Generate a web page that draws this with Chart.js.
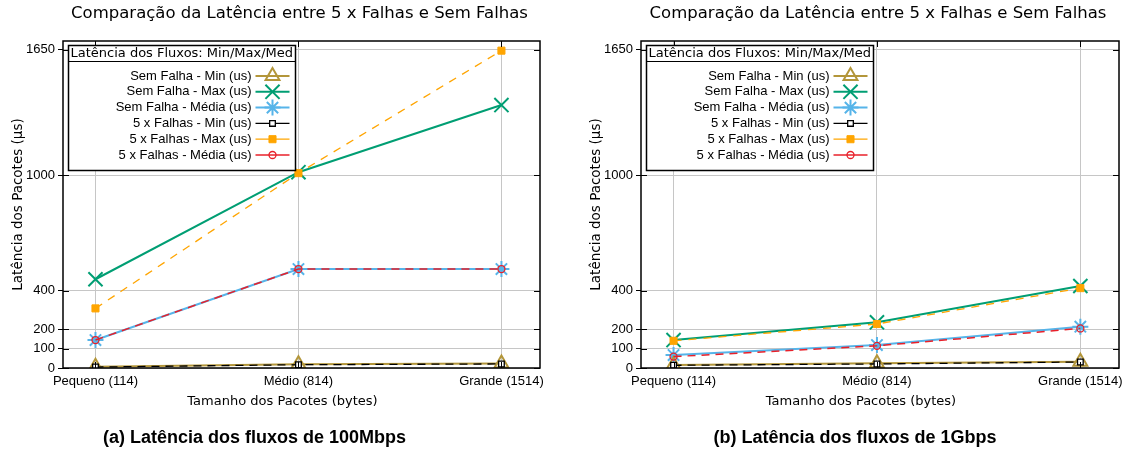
<!DOCTYPE html>
<html lang="pt">
<head>
<meta charset="utf-8">
<title>Latência dos fluxos</title>
<script src="https://cdn.jsdelivr.net/npm/chart.js@4.4.1/dist/chart.umd.min.js"></script>
<style>
  body { margin: 0; background: #fff; }
  #pagina { position: relative; width: 1132px; height: 452px; overflow: hidden; }
  canvas { position: absolute; top: 0; }
  #graf1 { left: 0; }
  #graf2 { left: 578px; }
  .legenda { position: absolute; top: 427px; line-height: 20px; font: bold 18px "Liberation Sans", Arial, sans-serif; text-align: center; white-space: nowrap; color: #000; }
</style>
</head>
<body>
<div id="pagina">
  <canvas id="graf1" width="566" height="452"></canvas>
  <canvas id="graf2" width="554" height="452"></canvas>
  <div class="legenda" style="left:0; width:509px;">(a) Latência dos fluxos de 100Mbps</div>
  <div class="legenda" style="left:578px; width:554px;">(b) Latência dos fluxos de 1Gbps</div>
</div>
<script>
// categorias e ticks
const categorias = ['Pequeno (114)', 'Médio (814)', 'Grande (1514)'];
const ticksY = [0, 100, 200, 400, 1000, 1650];

// fluxos de 100Mbps (us)
const semMin100 = [6, 20, 23];
const semMax100 = [460, 1015, 1363];
const semMed100 = [145, 513, 513];
const falMin100 = [5, 17, 21];
const falMax100 = [309, 1010, 1645];
const falMed100 = [145, 513, 513];

// fluxos de 1Gbps (us)
const semMin1G = [15, 24, 33];
const semMax1G = [145, 237, 425];
const semMed1G = [67, 119, 214];
const falMin1G = [14, 21, 31];
const falMax1G = [141, 228, 414];
const falMed1G = [59, 115, 205];

const titulo = 'Comparação da Latência entre 5 x Falhas e Sem Falhas';
const tituloChave = 'Latência dos Fluxos: Min/Max/Med';
const tituloX = 'Tamanho dos Pacotes (bytes)';

//Function que monta os datasets
function criarDatasets(semMin, semMax, semMed, falMin, falMax, falMed){
    const pts = arr => arr.map((v, i) => ({x: i, y: v}));
    return [
        { label: 'Sem Falha - Min (us)', data: pts(semMin), borderColor: '#b3963a', backgroundColor: 'rgba(0,0,0,0)',
          borderWidth: 2, pointStyle: 'triangle', pointRadius: 8, pointBorderWidth: 2, order: 2 },
        { label: 'Sem Falha - Max (us)', data: pts(semMax), borderColor: '#009e73', backgroundColor: '#009e73',
          borderWidth: 2, pointStyle: 'crossRot', pointRadius: 10, pointBorderWidth: 2, order: 2 },
        { label: 'Sem Falha - Média (us)', data: pts(semMed), borderColor: '#56b4e9', backgroundColor: '#56b4e9',
          borderWidth: 2, pointStyle: 'star', pointRadius: 8, pointBorderWidth: 2, order: 2 },
        { label: '5 x Falhas - Min (us)', data: pts(falMin), borderColor: '#000000', backgroundColor: '#ffffff',
          borderWidth: 1.3, borderDash: [8, 6], pointStyle: 'rect', pointRadius: 4, pointBorderWidth: 1.3, order: 1 },
        { label: '5 x Falhas - Max (us)', data: pts(falMax), borderColor: '#ffa500', backgroundColor: '#ffa500',
          borderWidth: 1.3, borderDash: [8, 7], pointStyle: 'rect', pointRadius: 5, pointBorderWidth: 1, order: 1 },
        { label: '5 x Falhas - Média (us)', data: pts(falMed), borderColor: '#e8202a', backgroundColor: 'rgba(0,0,0,0)',
          borderWidth: 1.5, borderDash: [8, 6], pointStyle: 'circle', pointRadius: 3.5, pointBorderWidth: 1.3, order: 1 }
    ];
}

// moldura preta, ticks internos, titulos e chave
const pluginMoldura = {
    id: 'moldura',
    afterDraw(chart){
        const ctx = chart.ctx;
        const a = chart.chartArea;
        const sx = chart.scales.x, sy = chart.scales.y;
        ctx.save();
        ctx.strokeStyle = '#000';
        ctx.lineWidth = 1;
        ctx.setLineDash([]);
        ctx.beginPath();
        sy.ticks.forEach(t => {
            const y = Math.round(sy.getPixelForValue(t.value)) + 0.5;
            ctx.moveTo(a.left, y); ctx.lineTo(a.left + 6, y);
            ctx.moveTo(a.right, y); ctx.lineTo(a.right - 6, y);
        });
        sx.ticks.forEach(t => {
            const x = Math.round(sx.getPixelForValue(t.value)) + 0.5;
            ctx.moveTo(x, a.top); ctx.lineTo(x, a.top + 6);
            ctx.moveTo(x, a.bottom); ctx.lineTo(x, a.bottom - 6);
        });
        ctx.stroke();
        ctx.lineWidth = 1.5;
        ctx.strokeRect(Math.round(a.left), Math.round(a.top), Math.round(a.right - a.left), Math.round(a.bottom - a.top));

        // titulo do grafico
        ctx.fillStyle = '#000';
        ctx.font = '16.5px "DejaVu Sans"';
        ctx.textAlign = 'center';
        ctx.textBaseline = 'middle';
        ctx.fillText(titulo, (a.left + a.right) / 2 - 2, 14);

        // titulo do eixo x
        ctx.font = '13px "DejaVu Sans"';
        ctx.fillText(tituloX, (a.left + a.right) / 2 - 19, 402);

        // chave (legenda interna)
        const bx = Math.round(a.left) + 5.5, by = Math.round(a.top) + 4.5;
        const bw = 227, bh = 125;
        ctx.fillStyle = '#fff';
        ctx.fillRect(bx, by, bw, bh);
        ctx.lineWidth = 1.5;
        ctx.strokeRect(bx, by, bw, bh);
        ctx.lineWidth = 1;
        ctx.beginPath();
        ctx.moveTo(bx, by + 16); ctx.lineTo(bx + bw, by + 16);
        ctx.stroke();
        ctx.fillStyle = '#000';
        ctx.font = '13px "DejaVu Sans"';
        ctx.textAlign = 'left';
        ctx.fillText(tituloChave, bx + 2, by + 8.5);

        ctx.font = '13px "Liberation Sans"';
        ctx.textAlign = 'right';
        chart.data.datasets.forEach((ds, i) => {
            const y = by + 30.5 + i * 15.8;
            ctx.fillStyle = '#000';
            ctx.fillText(ds.label, bx + 183, y);
            ctx.strokeStyle = ds.borderColor;
            ctx.lineWidth = ds.borderWidth;
            ctx.setLineDash([]);
            ctx.beginPath();
            ctx.moveTo(bx + 187, y); ctx.lineTo(bx + 221, y);
            ctx.stroke();
            ctx.fillStyle = ds.backgroundColor;
            ctx.lineWidth = ds.pointBorderWidth;
            Chart.helpers.drawPoint(ctx, {pointStyle: ds.pointStyle, radius: ds.pointRadius, rotation: 0, borderWidth: ds.pointBorderWidth}, bx + 204, y);
        });
        ctx.restore();
    }
};

function criarGrafico(id, datasets, padDir){
    const ctx = document.getElementById(id).getContext('2d');
    return new Chart(ctx, {
        type: 'line',
        data: { datasets: datasets },
        options: {
            responsive: false,
            animation: false,
            devicePixelRatio: 1,
            events: [],
            layout: { padding: { top: 41, right: padDir, bottom: 0, left: 0 } },
            plugins: { legend: { display: false }, title: { display: false }, tooltip: { enabled: false } },
            scales: {
                x: {
                    type: 'linear', min: -0.16, max: 2.19,
                    afterBuildTicks: s => { s.ticks = categorias.map((c, i) => ({value: i})); },
                    afterFit: s => { s.height = 84; },
                    ticks: { callback: v => categorias[v], autoSkip: false, maxRotation: 0, padding: 6,
                             color: '#000', font: { family: 'Liberation Sans', size: 13 } },
                    grid: { color: '#c6c6c6', drawTicks: false },
                    border: { display: false }
                },
                y: {
                    type: 'linear', min: 0, max: 1695,
                    afterBuildTicks: s => { s.ticks = ticksY.map(v => ({value: v})); },
                    afterFit: s => { s.width = 63; },
                    ticks: { callback: v => String(v), autoSkip: false, padding: 3,
                             color: '#000', font: { family: 'Liberation Sans', size: 13 } },
                    grid: { color: '#c6c6c6', tickColor: '#000', tickLength: 5 },
                    border: { display: false },
                    title: { display: true, text: 'Latência dos Pacotes (µs)', color: '#000',
                             font: { family: 'DejaVu Sans', size: 13.5 }, padding: { top: 10, bottom: 0 } }
                }
            }
        },
        plugins: [pluginMoldura]
    });
}

const grafico1 = criarGrafico('graf1', criarDatasets(semMin100, semMax100, semMed100, falMin100, falMax100, falMed100), 26);
const grafico2 = criarGrafico('graf2', criarDatasets(semMin1G, semMax1G, semMed1G, falMin1G, falMax1G, falMed1G), 13);
</script>
</body>
</html>
